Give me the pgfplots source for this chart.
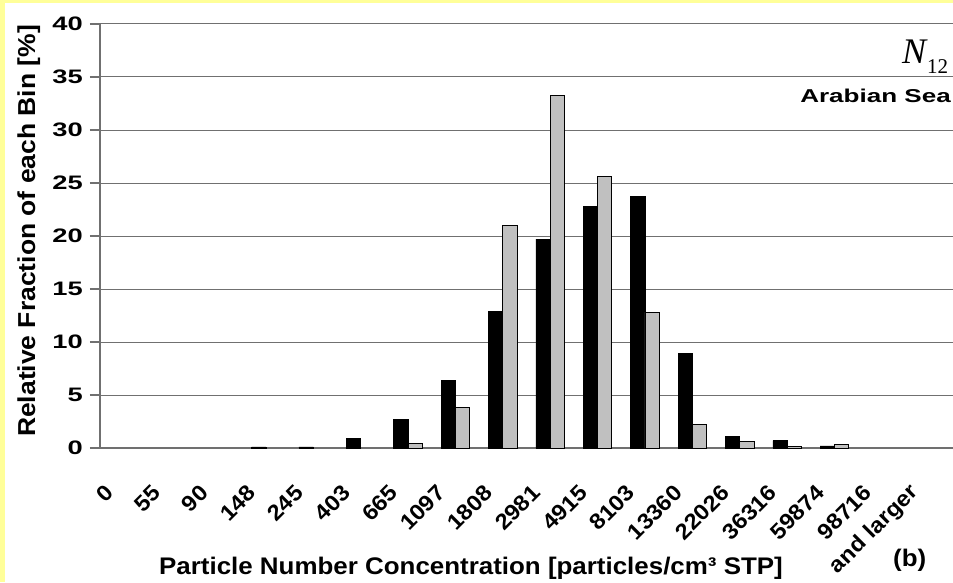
\documentclass[border=0pt]{standalone}
\usepackage{pgfplots}
\pgfplotsset{compat=1.18}
\usepackage{fontspec}
\setmainfont{Liberation Sans}
\newfontfamily\tickfam[FakeStretch=1.4]{Liberation Sans}
\newfontfamily\labfam[FakeStretch=1.08]{Liberation Sans}
\newfontfamily\seriffam{Liberation Serif}
\definecolor{bgyellow}{HTML}{FFFF99}
\definecolor{bargray}{HTML}{C0C0C0}
\definecolor{gridgray}{HTML}{707070}

\begin{document}
\begin{tikzpicture}[x=1pt,y=1pt]
\useasboundingbox (0,0) rectangle (953,582);
\fill[bgyellow] (0,0) rectangle (953,582);
\fill[white] (5,0) rectangle (953,579);
\begin{axis}[
  at={(100pt,134pt)}, anchor=south west,
  scale only axis, width=853pt, height=424pt,
  ymin=0, ymax=40, ytick={0,5,...,40},
  xmin=-0.5, xmax=17.5,
  xtick={0,...,17},
  xticklabels={0,55,90,148,245,403,665,1097,1808,2981,4915,8103,13360,22026,36316,59874,98716,and larger},
  minor xtick={-0.5,0.5,...,16.5},
  xtick style={draw=none},
  minor x tick style={gridgray, line width=1.2pt},
  ytick style={gridgray, line width=1.2pt},
  minor tick length=9pt,
  major tick length=10pt,
  tick align=outside,
  axis lines*=left,
  axis line style={gridgray, line width=1.2pt},
  ymajorgrids,
  major grid style={gridgray, line width=1pt},
  /pgf/number format/assume math mode=true,
  yticklabel style={font=\tickfam\bfseries\fontsize{19.5}{21}\selectfont,
    anchor=east, inner sep=0pt, xshift=-7pt},
  xticklabel style={font=\labfam\bfseries\fontsize{22}{24}\selectfont,
    inner sep=0pt, xshift=-14pt, yshift=-31pt, rotate=45, anchor=east},
  ybar=0pt, bar width=14.3pt,
  clip=false,
]
% black series
\addplot[fill=black, draw=black, line width=0.6pt] coordinates {
  (3,0.1) (4,0.1) (5,0.9) (6,2.7) (7,6.4) (8,12.9) (9,19.7) (10,22.8)
  (11,23.7) (12,8.9) (13,1.1) (14,0.7) (15,0.2)
};
% grey series
\addplot[fill=bargray, draw=black, line width=0.8pt] coordinates {
  (6,0.4) (7,3.8) (8,21.0) (9,33.3) (10,25.6)
  (11,12.8) (12,2.2) (13,0.6) (14,0.15) (15,0.3)
};
\end{axis}
\node[anchor=base, rotate=90, inner sep=0pt, font=\labfam\bfseries\fontsize{24.5}{28}\selectfont] at (35,351) {Relative Fraction of each Bin [\%]};
\node[anchor=base, inner sep=0pt, font=\labfam\bfseries\fontsize{24}{28}\selectfont] at (471,8) {Particle Number Concentration [particles/cm³ STP]};
\node[anchor=base west, inner sep=0pt, font=\labfam\bfseries\fontsize{24}{28}\selectfont] at (893,16) {(b)};
\node[anchor=base east, inner sep=0pt, font=\tickfam\bfseries\fontsize{18.6}{20}\selectfont] at (951,479.3) {Arabian Sea};
\node[anchor=base west, inner sep=0pt, font=\seriffam\itshape\fontsize{36}{36}\selectfont] at (902,518.7) {N};
\node[anchor=base west, inner sep=0pt, font=\seriffam\fontsize{21}{21}\selectfont] at (927,508) {12};
\end{tikzpicture}
\end{document}
